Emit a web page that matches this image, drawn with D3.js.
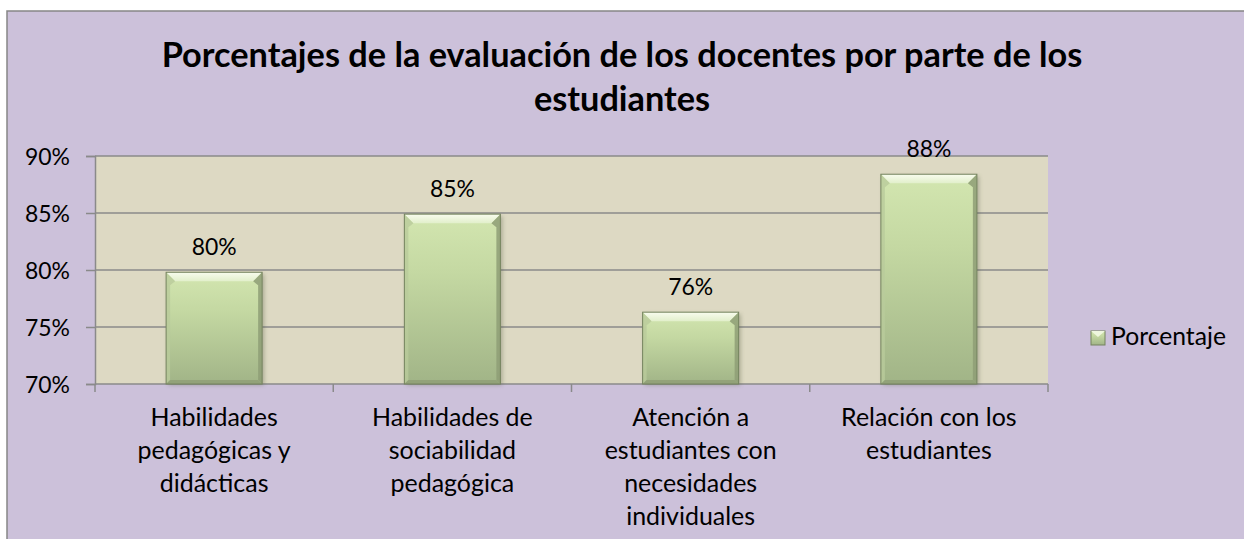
<!DOCTYPE html>
<html><head><meta charset="utf-8">
<script src="https://cdn.jsdelivr.net/npm/d3@7"></script>
<style>
html,body{margin:0;padding:0;background:#fff;overflow:hidden;}
svg{display:block;}
text{font-family:Lato,"Open Sans",sans-serif;fill:#000;}
</style>
</head><body>
<svg id="c" width="1244" height="539"></svg>
<script>
// ---- data ----
const titleLines = ["Porcentajes de la evaluación de los docentes por parte de los", "estudiantes"];
const categories = [
  "Habilidades\npedagógicas y\ndidácticas",
  "Habilidades de\nsociabilidad\npedagógica",
  "Atención a\nestudiantes con\nnecesidades\nindividuales",
  "Relación con los\nestudiantes"
];
const values = [0.798, 0.849, 0.763, 0.884];
const seriesName = "Porcentaje";
const yTicks = [0.70, 0.75, 0.80, 0.85, 0.90];

// ---- layout ----
const W = 1244, H = 539;
const plot = {left: 95, right: 1048, top: 156, bottom: 384};
const svg = d3.select("#c");
const defs = svg.append("defs");

function fitSize(str, target, weight) {
  const t = svg.append("text").attr("font-size", 20).attr("font-weight", weight || "normal").text(str);
  const w = t.node().getComputedTextLength();
  t.remove();
  return 20 * target / w;
}
const titleSize = fitSize(titleLines[0], 921, "bold");
const catSize = fitSize("estudiantes con", 172);
const tickSize = fitSize("90%", 45);
const legSize = fitSize(seriesName, 115);

// gradients
const g1 = defs.append("linearGradient").attr("id", "barFill").attr("x1", 0).attr("y1", 0).attr("x2", 0).attr("y2", 1);
g1.append("stop").attr("offset", 0).attr("stop-color", "#D3E6B0");
g1.append("stop").attr("offset", 0.35).attr("stop-color", "#C4D8A2");
g1.append("stop").attr("offset", 1).attr("stop-color", "#A1B487");
const g2 = defs.append("linearGradient").attr("id", "topBevel").attr("x1", 0).attr("y1", 0).attr("x2", 0).attr("y2", 1);
g2.append("stop").attr("offset", 0).attr("stop-color", "#F8FCEE");
g2.append("stop").attr("offset", 1).attr("stop-color", "#E2EFCB");
const blur = defs.append("filter").attr("id", "sh").attr("x", "-20%").attr("y", "-20%").attr("width", "140%").attr("height", "140%");
blur.append("feGaussianBlur").attr("stdDeviation", 2);

// chart background: fill, then only top and left border lines (the rest lies off-picture)
svg.append("rect").attr("x", 7).attr("y", 11).attr("width", W - 7).attr("height", H - 11)
  .attr("fill", "#CCC1DA");
svg.append("path").attr("d", `M7,${H}L7,11L${W},11`).attr("fill", "none")
  .attr("stroke", "#868686").attr("stroke-width", 1.5);

// title
svg.append("g").selectAll("text").data(titleLines).join("text")
  .attr("x", 622).attr("y", (d, i) => 67 + i * 44)
  .attr("text-anchor", "middle").attr("font-weight", "bold").attr("font-size", titleSize)
  .text(d => d);

// plot area
svg.append("rect").attr("x", plot.left).attr("y", plot.top)
  .attr("width", plot.right - plot.left).attr("height", plot.bottom - plot.top).attr("fill", "#DDD9C3");

const x = d3.scaleBand().domain(categories).range([plot.left, plot.right]).paddingInner(0.597).paddingOuter(0.2985);
const y = d3.scaleLinear().domain([0.70, 0.90]).range([plot.bottom, plot.top]);

// gridlines
svg.append("g").selectAll("line").data(yTicks.slice(1)).join("line")
  .attr("x1", plot.left).attr("x2", plot.right)
  .attr("y1", d => y(d)).attr("y2", d => y(d))
  .attr("stroke", "#8A8A8A").attr("stroke-width", 1.5);

// y axis
const yAxis = d3.axisLeft(y).tickValues(yTicks).tickFormat(d3.format(".0%")).tickSize(9).tickPadding(16);
const ya = svg.append("g").attr("transform", `translate(${plot.left},0)`).call(yAxis);
ya.select(".domain").attr("stroke", "#8A8A8A").attr("stroke-width", 1.5);
ya.selectAll(".tick line").attr("stroke", "#8A8A8A").attr("stroke-width", 1.5);
ya.selectAll(".tick text").attr("font-size", tickSize).attr("font-family", "Lato,sans-serif").attr("fill", "#000").attr("dy", "0.36em");

// x axis (ticks at category boundaries)
const step = x.step();
const bounds = d3.range(categories.length + 1).map(i => plot.left + i * step);
const xa = svg.append("g");
xa.append("line").attr("x1", plot.left).attr("x2", plot.right).attr("y1", plot.bottom).attr("y2", plot.bottom)
  .attr("stroke", "#8A8A8A").attr("stroke-width", 1.5);
xa.selectAll("line.t").data(bounds).join("line").attr("class", "t")
  .attr("x1", d => d).attr("x2", d => d).attr("y1", plot.bottom).attr("y2", plot.bottom + 8)
  .attr("stroke", "#8A8A8A").attr("stroke-width", 1.5);

// category labels
const cl = svg.append("g").selectAll("text").data(categories).join("text")
  .attr("text-anchor", "middle").attr("font-size", catSize)
  .attr("transform", d => `translate(${x(d) + x.bandwidth() / 2},0)`);
cl.selectAll("tspan").data(d => d.split("\n")).join("tspan")
  .attr("x", 0).attr("y", (d, i) => 426 + i * 33).text(d => d);

// bars
const bars = svg.append("g").selectAll("g").data(categories).join("g");
bars.each(function(c, i) {
  const g = d3.select(this);
  const bx = x(c), bw = x.bandwidth(), by = y(values[i]), bh = plot.bottom - y(values[i]);
  g.append("rect").attr("x", bx + 2).attr("y", by + 2).attr("width", bw).attr("height", bh - 1)
    .attr("fill", "#4A5238").attr("opacity", 0.35).attr("filter", "url(#sh)");
  g.append("rect").attr("x", bx).attr("y", by).attr("width", bw).attr("height", bh)
    .attr("fill", "url(#barFill)");
  const tb = 9, sb = 4, bb = 4;
  g.append("path").attr("d", `M${bx},${by}L${bx + bw},${by}L${bx + bw - tb},${by + tb}L${bx + tb},${by + tb}Z`)
    .attr("fill", "url(#topBevel)");
  g.append("path").attr("d", `M${bx},${by}L${bx + tb},${by + tb}L${bx + sb},${by + tb + 4}L${bx + sb},${by + bh - bb}L${bx},${by + bh}Z`)
    .attr("fill", "#B9CB9B").attr("opacity", 0.8);
  g.append("path").attr("d", `M${bx + bw},${by}L${bx + bw - tb},${by + tb}L${bx + bw - sb},${by + tb + 4}L${bx + bw - sb},${by + bh - bb}L${bx + bw},${by + bh}Z`)
    .attr("fill", "#8E9E76").attr("opacity", 0.85);
  g.append("path").attr("d", `M${bx},${by + bh}L${bx + sb},${by + bh - bb}L${bx + bw - sb},${by + bh - bb}L${bx + bw},${by + bh}Z`)
    .attr("fill", "#8E9E76").attr("opacity", 0.8);
  g.append("rect").attr("x", bx).attr("y", by).attr("width", bw).attr("height", bh)
    .attr("fill", "none").attr("stroke", "#75835F").attr("stroke-width", 1);
  g.append("text").attr("x", bx + bw / 2).attr("y", by - 17.5).attr("text-anchor", "middle")
    .attr("font-size", tickSize).text(d3.format(".0%")(values[i]));
});

// legend
const lg = svg.append("g");
lg.append("rect").attr("x", 1091).attr("y", 331).attr("width", 14).attr("height", 14)
  .attr("fill", "url(#barFill)").attr("stroke", "#75835F").attr("stroke-width", 1);
lg.append("path").attr("d", "M1091,331L1105,331L1098,337Z").attr("fill", "#EEF6DE");
lg.append("text").attr("x", 1111).attr("y", 345).attr("font-size", legSize).text(seriesName);
</script>
</body></html>
